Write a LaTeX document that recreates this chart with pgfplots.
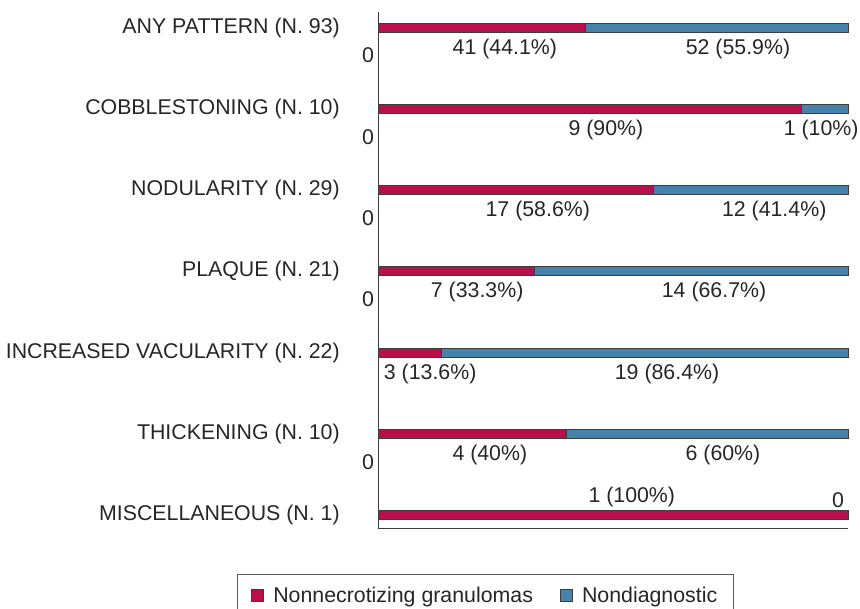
\documentclass[border=0pt]{standalone}
\usepackage{fontspec}
\setmainfont{Liberation Sans}
\usepackage{pgfplots}
\pgfplotsset{compat=1.18}
\definecolor{cred}{RGB}{185,15,75}
\definecolor{cblue}{RGB}{70,130,170}
\definecolor{cline}{RGB}{60,60,60}
\tikzset{vl/.style={font=\fontsize{16}{18}\selectfont, text=black!85, inner sep=0pt}}
\begin{document}
\fontsize{16}{18}\selectfont
\begin{tikzpicture}
\path[use as bounding box] (0,0) rectangle (645pt,-456pt);
\begin{axis}[
  at={(283.5pt,-396pt)}, anchor=south west,
  scale only axis, width=352.5pt, height=387pt,
  xbar stacked, bar width=6.75pt,
  xmin=0, xmax=100, ymin=-0.16, ymax=6.1908,
  axis x line*=bottom, axis y line*=left,
  axis line style={cline, line width=0.75pt, -},
  xtick=\empty,
  ytick={0,1,2,3,4,5,6},
  yticklabels={MISCELLANEOUS (N. 1),THICKENING (N. 10),INCREASED VACULARITY (N. 22),PLAQUE (N. 21),NODULARITY (N. 29),COBBLESTONING (N. 10),ANY PATTERN (N. 93)},
  major tick length=0pt,
  yticklabel style={anchor=east, inner sep=0pt, xshift=-28.5pt, font=\fontsize{16}{18}\selectfont, text=black!85},
  clip=false,
  legend columns=2,
  legend image code/.code={\draw[#1,draw=cline,line width=0.75pt] (0pt,-4.5pt) rectangle (9pt,4.5pt);},
  legend style={at={(axis cs:-30,-0.726)}, anchor=north west, draw=black!65, line width=1pt,
    font=\fontsize{16}{18}\selectfont, text=black!85, inner xsep=10pt, inner ysep=7pt,
    /tikz/every odd column/.append style={column sep=5pt},
    /tikz/every even column/.append style={column sep=18pt}},
]
\addplot[fill=cred, draw=cline, line width=0.75pt] coordinates {(44.1,6) (90,5) (58.6,4) (33.3,3) (13.6,2) (40,1) (100,0)};
\addlegendentry{Nonnecrotizing granulomas}
\addplot[fill=cblue, draw=cline, line width=0.75pt] coordinates {(55.9,6) (10,5) (41.4,4) (66.7,3) (86.4,2) (60,1) (0,0)};
\addlegendentry{Nondiagnostic}
\node[vl] at (axis cs:27.0,5.7415) {41 (44.1\%)};
\node[vl] at (axis cs:76.6,5.7415) {52 (55.9\%)};
\node[vl] at (axis cs:48.5,4.7415) {9 (90\%)};
\node[vl] at (axis cs:94.3,4.7415) {1 (10\%)};
\node[vl] at (axis cs:34.0,3.7415) {17 (58.6\%)};
\node[vl] at (axis cs:84.3,3.7415) {12 (41.4\%)};
\node[vl] at (axis cs:21.1,2.7415) {7 (33.3\%)};
\node[vl] at (axis cs:71.5,2.7415) {14 (66.7\%)};
\node[vl] at (axis cs:11.1,1.7415) {3 (13.6\%)};
\node[vl] at (axis cs:61.5,1.7415) {19 (86.4\%)};
\node[vl] at (axis cs:23.8,0.7415) {4 (40\%)};
\node[vl] at (axis cs:73.4,0.7415) {6 (60\%)};
\node[vl] at (axis cs:54.0,0.2215) {1 (100\%)};
\node[vl] at (axis cs:97.9,0.185) {0};
\node[vl] at (axis cs:-2.13,5.655) {0};
\node[vl] at (axis cs:-2.13,4.655) {0};
\node[vl] at (axis cs:-2.13,3.655) {0};
\node[vl] at (axis cs:-2.13,2.655) {0};
\node[vl] at (axis cs:-2.13,0.655) {0};
\end{axis}
\end{tikzpicture}
\end{document}
